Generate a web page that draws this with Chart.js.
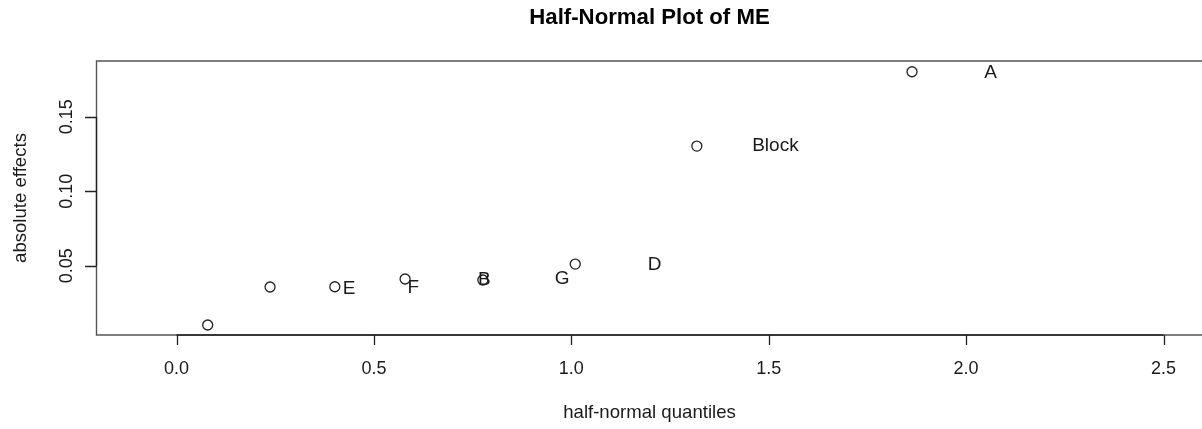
<!DOCTYPE html>
<html>
<head>
<meta charset="utf-8">
<script src="https://cdn.jsdelivr.net/npm/chart.js@4/dist/chart.umd.min.js"></script>
<style>
  html, body { margin: 0; padding: 0; background: #fff; overflow: hidden; }
  #wrap { width: 1202px; height: 429px; }
  #c { display: block; }
</style>
</head>
<body>
<div id="wrap"><canvas id="c" width="1202" height="429"></canvas></div>
<script>
// Half-normal quantiles and absolute effects of the factors
const quantiles = [0.079, 0.237, 0.401, 0.579, 0.776, 1.010, 1.318, 1.863];
const absEffects = [0.0102, 0.0357, 0.0359, 0.0411, 0.0404, 0.0511, 0.1303, 0.1802];

// Effect labels and where their text sits
const effectNames = ['E', 'F', 'B', 'G', 'D', 'Block', 'A'];
const labelX = [0.437, 0.600, 0.780, 0.977, 1.211, 1.517, 2.062];
const labelY = [0.0348, 0.0355, 0.0404, 0.0411, 0.0505, 0.1303, 0.1798];

// Axis ticks
const xTicks = [0, 0.5, 1.0, 1.5, 2.0, 2.5];
const xTickLabels = ['0.0', '0.5', '1.0', '1.5', '2.0', '2.5'];
const yTicks = [0.05, 0.10, 0.15];
const yTickLabels = ['0.05', '0.10', '0.15'];

const titleText = 'Half-Normal Plot of ME';
const xTitle = 'half-normal quantiles';
const yTitle = 'absolute effects';

const FONT = '"Liberation Sans", Arial, Helvetica, sans-serif';

const points = quantiles.map((q, i) => ({ x: q, y: absEffects[i] }));

// Base-graphics style frame, axes and annotations
const basePlot = {
  id: 'basePlot',
  beforeDatasetsDraw(chart) {
    const { ctx, chartArea: a, scales: { x, y } } = chart;
    ctx.save();
    // frame: the plot region continues past the right edge of the canvas
    ctx.strokeStyle = '#555';
    ctx.lineWidth = 1.4;
    ctx.beginPath();
    ctx.moveTo(a.right + 3, a.top);
    ctx.lineTo(a.left + 0.5, a.top);
    ctx.lineTo(a.left + 0.5, a.bottom);
    ctx.lineTo(a.right + 3, a.bottom);
    ctx.stroke();

    ctx.strokeStyle = '#222';
    ctx.lineWidth = 1.3;
    // x axis line and ticks
    const x0 = x.getPixelForValue(xTicks[0]);
    const x1 = x.getPixelForValue(xTicks[xTicks.length - 1]);
    ctx.beginPath();
    ctx.moveTo(x0, a.bottom);
    ctx.lineTo(x1, a.bottom);
    xTicks.forEach(v => {
      const px = Math.round(x.getPixelForValue(v)) + 0.5;
      ctx.moveTo(px, a.bottom);
      ctx.lineTo(px, a.bottom + 10);
    });
    // y axis line and ticks
    const y0 = y.getPixelForValue(yTicks[0]);
    const y1 = y.getPixelForValue(yTicks[yTicks.length - 1]);
    ctx.moveTo(a.left + 0.5, y0);
    ctx.lineTo(a.left + 0.5, y1);
    yTicks.forEach(v => {
      const py = Math.round(y.getPixelForValue(v)) + 0.5;
      ctx.moveTo(a.left + 0.5, py);
      ctx.lineTo(a.left - 11, py);
    });
    ctx.stroke();
    ctx.restore();
  },
  afterDatasetsDraw(chart) {
    const { ctx, chartArea: a, scales: { x, y } } = chart;
    ctx.save();
    ctx.fillStyle = '#1a1a1a';
    ctx.font = '18px ' + FONT;

    // x tick labels
    ctx.textAlign = 'center';
    ctx.textBaseline = 'middle';
    xTicks.forEach((v, i) => {
      ctx.fillText(xTickLabels[i], x.getPixelForValue(v), 369);
    });

    // y tick labels, rotated
    yTicks.forEach((v, i) => {
      ctx.save();
      ctx.translate(72, y.getPixelForValue(v));
      ctx.rotate(-Math.PI / 2);
      ctx.textAlign = 'center';
      ctx.textBaseline = 'alphabetic';
      ctx.fillText(yTickLabels[i], 0, 0);
      ctx.restore();
    });

    // axis titles, centred on the full plot region
    const midX = 649.5;
    ctx.font = '18.6px ' + FONT;
    ctx.textAlign = 'center';
    ctx.textBaseline = 'alphabetic';
    ctx.fillText(xTitle, midX, 418);
    ctx.save();
    ctx.translate(25.5, (a.top + a.bottom) / 2);
    ctx.rotate(-Math.PI / 2);
    ctx.fillText(yTitle, 0, 0);
    ctx.restore();

    // effect labels
    ctx.font = '19px ' + FONT;
    ctx.textBaseline = 'middle';
    effectNames.forEach((name, i) => {
      ctx.fillText(name, x.getPixelForValue(labelX[i]), y.getPixelForValue(labelY[i]));
    });

    // main title
    ctx.fillStyle = '#000';
    ctx.font = 'bold 22.2px ' + FONT;
    ctx.textBaseline = 'alphabetic';
    ctx.fillText(titleText, midX, 24);
    ctx.restore();
  }
};

new Chart(document.getElementById('c'), {
  type: 'scatter',
  data: {
    datasets: [{
      data: points,
      pointStyle: 'circle',
      pointRadius: 5,
      pointHoverRadius: 5,
      pointBorderWidth: 1.3,
      borderColor: '#222',
      backgroundColor: 'rgba(0,0,0,0)',
      showLine: false
    }]
  },
  options: {
    responsive: false,
    animation: false,
    devicePixelRatio: 1,
    layout: { autoPadding: false, padding: { left: 96, top: 61, right: 0, bottom: 94 } },
    plugins: { legend: { display: false }, tooltip: { enabled: false } },
    events: [],
    scales: {
      x: { type: 'linear', min: -0.2039, max: 2.5975, display: false },
      y: { type: 'linear', min: 0.0035, max: 0.1874, display: false }
    }
  },
  plugins: [basePlot]
});
</script>
</body>
</html>
